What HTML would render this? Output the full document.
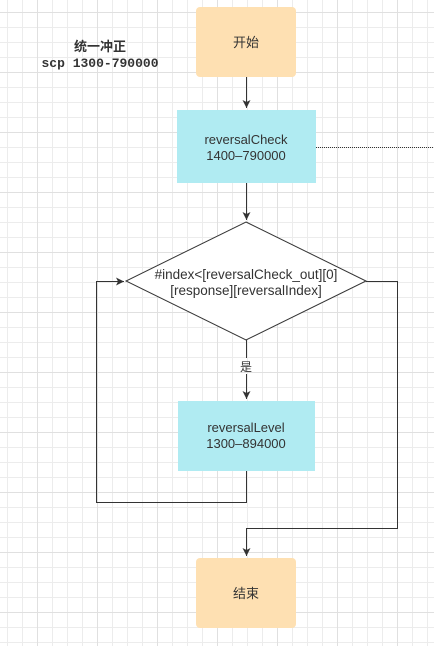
<!DOCTYPE html>
<html><head><meta charset="utf-8"><style>
html,body{margin:0;padding:0;width:434px;height:646px;overflow:hidden;background:#fff}
</style></head><body>
<svg width="434" height="646" xmlns="http://www.w3.org/2000/svg" style="position:absolute;left:0;top:0">
<defs>
<pattern id="g" x="7" y="12" width="15" height="15" patternUnits="userSpaceOnUse">
<path d="M0.5 0V15M0 0.5H15" stroke="#ececec" stroke-width="1" fill="none"/>
</pattern>
<pattern id="G" x="37" y="12" width="60" height="60" patternUnits="userSpaceOnUse">
<path d="M0.5 0V60M0 0.5H60" stroke="#e0e0e0" stroke-width="1" fill="none"/>
</pattern>
<marker id="a" markerWidth="10" markerHeight="10" refX="8" refY="4" orient="auto" markerUnits="userSpaceOnUse">
<path d="M0 0L8 4L0 8L2 4Z" fill="#333"/>
</marker>
</defs>
<rect width="434" height="646" fill="url(#g)"/>
<rect width="434" height="646" fill="url(#G)"/>
<g font-family="Liberation Sans, Noto Sans CJK SC, sans-serif" fill="#333">
<text x="100" y="51" text-anchor="middle" font-size="13" font-weight="bold">统一冲正</text>
<text x="100" y="67" text-anchor="middle" font-size="13" font-weight="bold" font-family="Liberation Mono, monospace">scp 1300-790000</text>
</g>
<rect x="196" y="7" width="100" height="70" rx="4" fill="#fee0b2"/>
<rect x="177" y="110" width="139" height="73" fill="#b0ebf2"/>
<polygon points="246,222 366,281 246,340 126,281" fill="#fff" stroke="#333" stroke-width="1"/>
<rect x="178" y="401" width="137" height="70" fill="#b0ebf2"/>
<rect x="196" y="558" width="100" height="70" rx="4" fill="#fee0b2"/>
<g stroke="#333" stroke-width="1" fill="none">
<path d="M246.5 77V108" marker-end="url(#a)"/>
<path d="M246.5 183V220" marker-end="url(#a)"/>
<path d="M246.5 340V358M246.5 374V399" marker-end="url(#a)"/>
<path d="M246.5 471V502.5H96.5V281.5H124" marker-end="url(#a)"/>
<path d="M366 281.5H397.5V528.5H246.5V556" marker-end="url(#a)"/>
<path d="M316 147.5H434" stroke-dasharray="1,1"/>
</g>
<g font-family="Liberation Sans, Noto Sans CJK SC, sans-serif" fill="#333" font-size="13" text-anchor="middle">
<text x="246" y="47">开始</text>
<text x="246" y="144">reversalCheck</text>
<text x="246" y="160">1400–790000</text>
<text x="246" y="279" font-size="13.5">#index&lt;[reversalCheck_out][0]</text>
<text x="246" y="295" font-size="13.5">[response][reversalIndex]</text>
<text x="246" y="371" font-size="12">是</text>
<text x="246" y="432">reversalLevel</text>
<text x="246" y="448">1300–894000</text>
<text x="246" y="598">结束</text>
</g>
</svg>
</body></html>
